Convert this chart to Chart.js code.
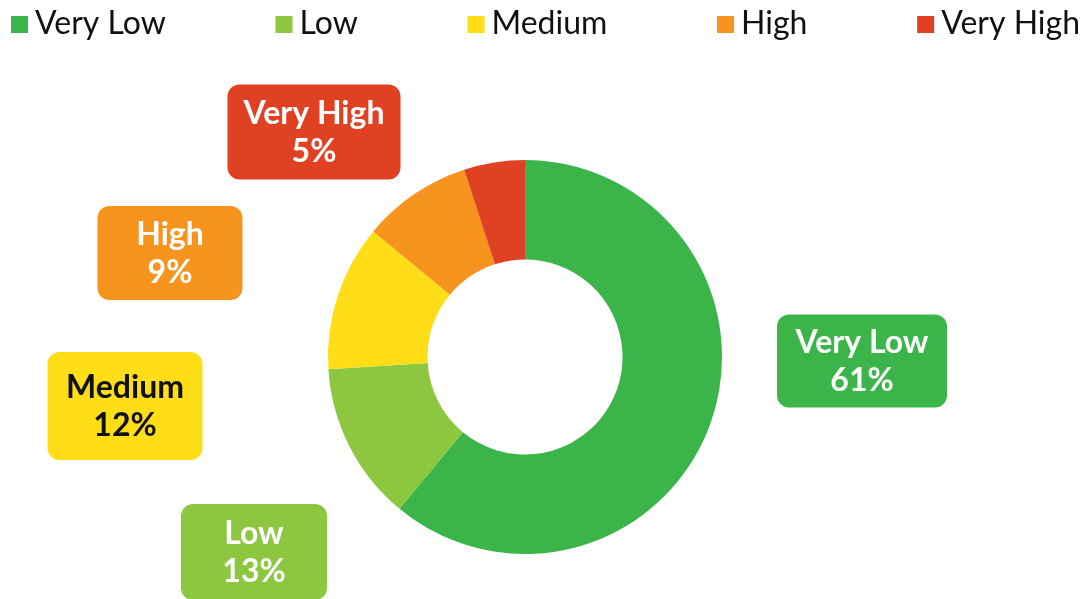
<!DOCTYPE html>
<html>
<head>
<meta charset="utf-8">
<script src="https://cdn.jsdelivr.net/npm/chart.js@4.4.0/dist/chart.umd.min.js"></script>
<style>
  html, body { margin: 0; padding: 0; background: #fff; }
  #wrap { width: 1088px; height: 599px; position: relative; }
</style>
</head>
<body>
<div id="wrap"><canvas id="donut"></canvas></div>
<script>
const categories = ["Very Low", "Low", "Medium", "High", "Very High"];
const shares = [61, 13, 12, 9, 5];
const sliceColors = ["#3BB54A", "#8DC63F", "#FFDD17", "#F7941E", "#E04123"];
const labelTextColors = ["#fff", "#fff", "#111", "#fff", "#fff"];

// callout boxes: offset from the doughnut centre + box size
const calloutLayout = [
  { dx: 337, dy: 4, w: 170, h: 93 },
  { dx: -271, dy: 195, w: 146, h: 96 },
  { dx: -400, dy: 49, w: 155, h: 108 },
  { dx: -355, dy: -104, w: 145, h: 94 },
  { dx: -211, dy: -225, w: 173, h: 95 },
];

const FONT = "Lato, 'Noto Sans', sans-serif";

// legend across the top, spread evenly over the width
const topLegend = {
  id: "topLegend",
  afterDraw(chart) {
    const ctx = chart.ctx;
    ctx.save();
    ctx.font = "32px " + FONT;
    ctx.textBaseline = "alphabetic";
    const box = 17, gap = 7;
    const left = 11, right = 1080;
    const widths = categories.map((c) => box + gap + ctx.measureText(c).width);
    const sum = widths.reduce((a, b) => a + b, 0);
    const spacing = (right - left - sum) / (categories.length - 1);
    let x = left;
    categories.forEach((c, i) => {
      ctx.fillStyle = sliceColors[i];
      ctx.fillRect(x, 16, box, box);
      ctx.fillStyle = "#111";
      ctx.textAlign = "left";
      ctx.fillText(c, x + box + gap, 34);
      x += widths[i] + spacing;
    });
    ctx.restore();
  },
};

// rounded callout boxes with name and percentage
const callouts = {
  id: "callouts",
  afterDatasetsDraw(chart) {
    const ctx = chart.ctx;
    const meta = chart.getDatasetMeta(0);
    ctx.save();
    meta.data.forEach((arc, i) => {
      const lay = calloutLayout[i];
      const cx = arc.x + lay.dx, cy = arc.y + lay.dy;
      ctx.fillStyle = sliceColors[i];
      ctx.beginPath();
      ctx.roundRect(cx - lay.w / 2, cy - lay.h / 2, lay.w, lay.h, 12);
      ctx.fill();
      ctx.fillStyle = labelTextColors[i];
      ctx.font = "bold 32px " + FONT;
      ctx.textAlign = "center";
      ctx.textBaseline = "alphabetic";
      ctx.fillText(categories[i], cx, cy - 8);
      ctx.fillText(shares[i] + "%", cx, cy + 30);
    });
    ctx.restore();
  },
};

new Chart(document.getElementById("donut"), {
  type: "doughnut",
  data: {
    labels: categories,
    datasets: [
      {
        data: shares,
        backgroundColor: sliceColors,
        borderWidth: 0,
        hoverOffset: 0,
      },
    ],
  },
  options: {
    responsive: true,
    maintainAspectRatio: false,
    animation: false,
    cutout: "49.5%",
    layout: { padding: { top: 160, bottom: 45, left: 328, right: 366 } },
    plugins: {
      legend: { display: false },
      tooltip: { enabled: false },
    },
  },
  plugins: [topLegend, callouts],
});
</script>
</body>
</html>
